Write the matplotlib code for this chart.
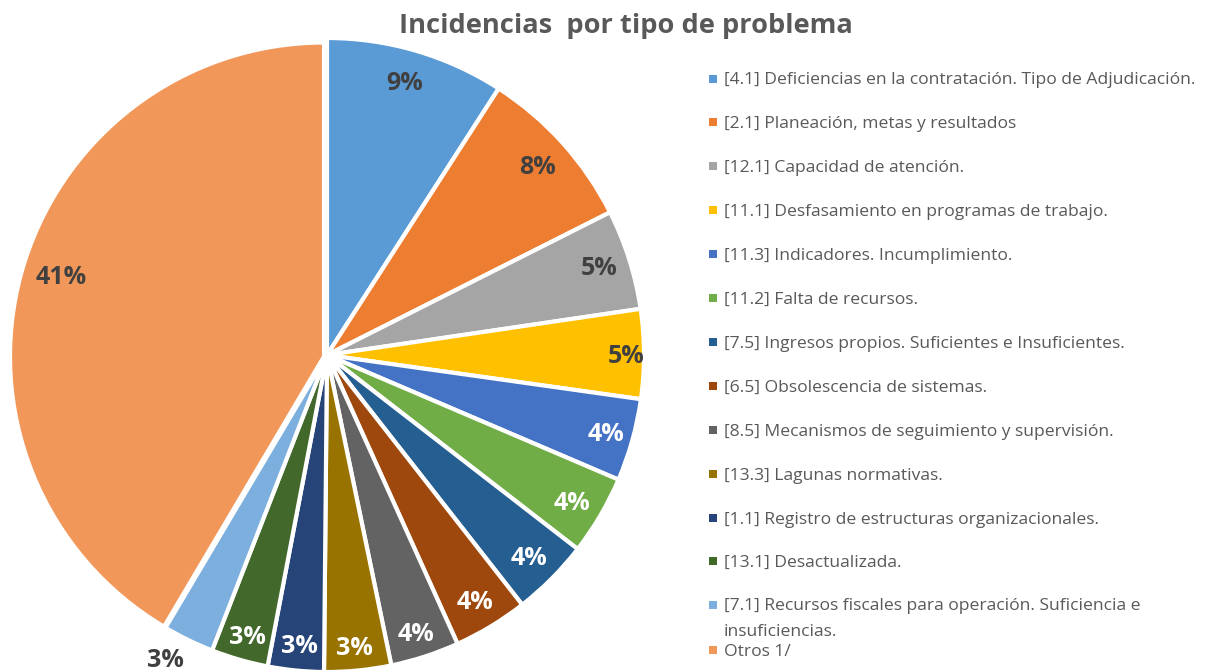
import matplotlib
matplotlib.use("Agg")
import numpy as np
import matplotlib.pyplot as plt
from matplotlib.patches import Rectangle

title = "Incidencias  por tipo de problema"
categories = [
    "[4.1] Deficiencias en la contratación. Tipo de Adjudicación.",
    "[2.1] Planeación, metas y resultados",
    "[12.1] Capacidad de atención.",
    "[11.1] Desfasamiento en programas de trabajo.",
    "[11.3] Indicadores. Incumplimiento.",
    "[11.2] Falta de recursos.",
    "[7.5] Ingresos propios. Suficientes e Insuficientes.",
    "[6.5] Obsolescencia de sistemas.",
    "[8.5] Mecanismos de seguimiento y supervisión.",
    "[13.3] Lagunas normativas.",
    "[1.1] Registro de estructuras organizacionales.",
    "[13.1] Desactualizada.",
    "[7.1] Recursos fiscales para operación. Suficiencia e\ninsuficiencias.",
    "Otros 1/",
]
values = [9.1, 8.45, 5.1, 4.55, 4.2, 4.05, 3.95, 3.8, 3.5, 3.4, 2.85, 2.9, 2.6, 41.45]
colors = ["#5B9BD5", "#ED7D31", "#A5A5A5", "#FFC000", "#4472C4", "#70AD47", "#255E91",
          "#9E480E", "#636363", "#997300", "#264478", "#43682B", "#7CAFDD", "#F1975A"]
label_colors = ["#404040"] * 4 + ["white"] * 8 + ["#404040"] * 2
pct_labels = ["9%", "8%", "5%", "5%", "4%", "4%", "4%", "4%", "4%", "3%", "3%", "3%", "3%", "41%"]
label_radius = [0.89, 0.89, 0.90, 0.945, 0.915, 0.905, 0.905, 0.91, 0.925, 0.93, 0.925, 0.925, 1.09, 0.875]
label_turn = [-0.4, 0.2, 0, 0.4, 0.3, 0.8, 0.4, 0.4, 0.4, 0.2, -0.3, -0.3, 2.0, 1.0]
legend_y = [79, 122, 166, 210, 254, 298, 342, 386, 430, 474, 518, 561, 605, 650]

plt.rcParams["font.family"] = ["Open Sans", "DejaVu Sans"]
W, H = 1207, 672
fig = plt.figure(figsize=(W / 100, H / 100), dpi=100, facecolor="white")
ax = fig.add_axes([0, 0, 1, 1])

cx, cy, r = 327, 355, 317
# y axis is inverted here, so the pie runs the mirrored way round
wedges, _ = ax.pie(values, colors=colors, center=(cx, cy), radius=r, startangle=-90,
                   counterclock=True,
                   wedgeprops=dict(edgecolor="white", linewidth=3.0), frame=True)
ax.set_xlim(0, W)
ax.set_ylim(H, 0)
ax.set_aspect("equal")
ax.axis("off")
# the last slice sits slightly apart from the others
wedges[-1].set_center((cx - 3, cy + 1.5))
wedges[-1].set_radius(r - 3)

for w, lab, col, rad, turn in zip(wedges, pct_labels, label_colors, label_radius, label_turn):
    a = np.deg2rad((w.theta1 + w.theta2) / 2 + turn)
    ax.text(cx + r * rad * np.cos(a), cy + r * rad * np.sin(a), lab, color=col,
            fontsize=18, fontweight="bold", ha="center", va="center")

ax.text(626, 26, title, fontsize=19.6, fontweight="bold", color="#595959", ha="center", va="center")

for cat, col, y in zip(categories, colors, legend_y):
    ax.add_patch(Rectangle((709, y - 4), 8, 8, facecolor=col, edgecolor="none"))
    first, *rest = cat.split("\n")
    ax.text(724, y + 1.5, first, fontsize=12.6, color="#595959", ha="left", va="center")
    for i, line in enumerate(rest):
        ax.text(724, y + 1.5 + 25 * (i + 1), line, fontsize=12.6, color="#595959", ha="left", va="center")

fig.savefig("out.png", dpi=100)
